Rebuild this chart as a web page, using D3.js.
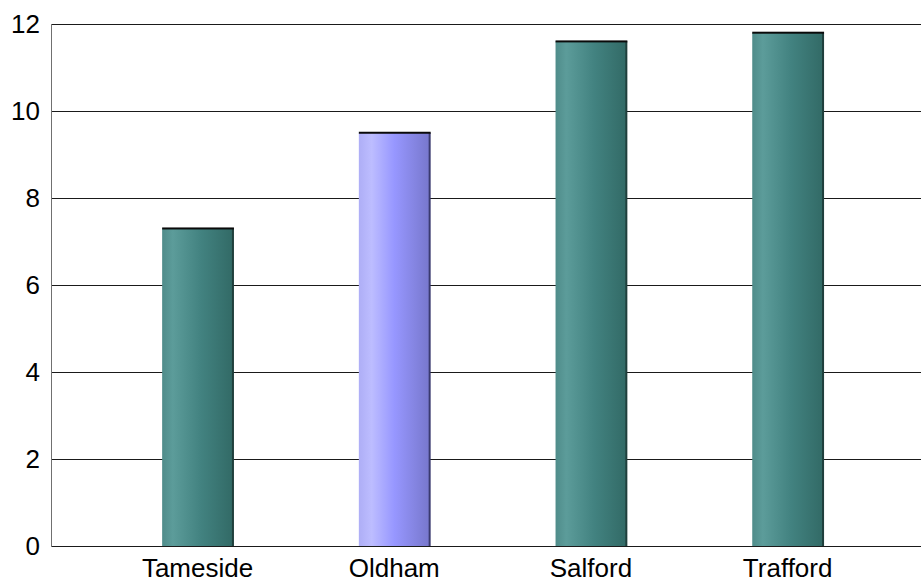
<!DOCTYPE html>
<html>
<head>
<meta charset="utf-8">
<script src="https://cdn.jsdelivr.net/npm/d3@7"></script>
<style>
  html, body { margin: 0; padding: 0; background: #fff; }
  svg { display: block; }
  text { font-family: "Liberation Sans", Arial, sans-serif; fill: #000; }
</style>
</head>
<body>
<svg id="chart" width="921" height="582"></svg>
<script>
const categories = ["Tameside", "Oldham", "Salford", "Trafford"];
const values = [7.3, 9.5, 11.6, 11.8];
const highlight = ["Oldham"];
const yTicks = [0, 2, 4, 6, 8, 10, 12];

const svg = d3.select("#chart");
const plot = { left: 51, right: 921, top: 24, bottom: 546 };

const y = d3.scaleLinear().domain([0, 12]).range([plot.bottom, plot.top]);
const x = d3.scaleBand().domain(categories).range([99.2, 886]).paddingInner(0.64).paddingOuter(0.32);

const defs = svg.append("defs");
function grad(id, stops) {
  const g = defs.append("linearGradient").attr("id", id).attr("x1", "0%").attr("x2", "100%").attr("y1", "0%").attr("y2", "0%");
  stops.forEach(([o, c]) => g.append("stop").attr("offset", o).attr("stop-color", c));
}
grad("teal", [["0%", "#4f8c8a"], ["15%", "#5c9c9a"], ["55%", "#428280"], ["100%", "#326a66"]]);
grad("lav", [["0%", "#aeaef6"], ["18%", "#bdbdff"], ["50%", "#9797ff"], ["100%", "#7777cc"]]);

// gridlines
svg.append("g").selectAll("line").data(yTicks).join("line")
  .attr("x1", plot.left).attr("x2", plot.right)
  .attr("y1", d => Math.round(y(d)) + 0.5).attr("y2", d => Math.round(y(d)) + 0.5)
  .attr("stroke", "#1a1a1a").attr("stroke-width", 1);

// y axis line
svg.append("line")
  .attr("x1", plot.left + 0.5).attr("x2", plot.left + 0.5)
  .attr("y1", plot.top).attr("y2", plot.bottom + 1)
  .attr("stroke", "#707070").attr("stroke-width", 1);

// y tick labels
svg.append("g").selectAll("text").data(yTicks).join("text")
  .attr("x", 40).attr("y", d => y(d))
  .attr("dy", "0.35em")
  .attr("text-anchor", "end")
  .attr("font-size", 26)
  .text(d => d);

// bars
const bars = svg.append("g").selectAll("g").data(categories).join("g");
bars.append("rect")
  .attr("x", d => x(d))
  .attr("y", (d, i) => y(values[i]))
  .attr("width", x.bandwidth())
  .attr("height", (d, i) => y(0) - y(values[i]))
  .attr("fill", d => highlight.includes(d) ? "url(#lav)" : "url(#teal)");
// right dark edge
bars.append("rect")
  .attr("x", d => x(d) + x.bandwidth() - 1)
  .attr("y", (d, i) => y(values[i]))
  .attr("width", 2)
  .attr("height", (d, i) => y(0) - y(values[i]))
  .attr("fill", d => highlight.includes(d) ? "#3a3a70" : "#1f3f3c");
// top dark edge
bars.append("rect")
  .attr("x", d => x(d))
  .attr("y", (d, i) => y(values[i]) - 1)
  .attr("width", x.bandwidth() + 1)
  .attr("height", 2)
  .attr("fill", "#0a0a0a");

// x labels
svg.append("g").selectAll("text").data(categories).join("text")
  .attr("x", d => x(d) + x.bandwidth() / 2)
  .attr("y", 576.5)
  .attr("text-anchor", "middle")
  .attr("font-size", 26)
  .text(d => d);
</script>
</body>
</html>
